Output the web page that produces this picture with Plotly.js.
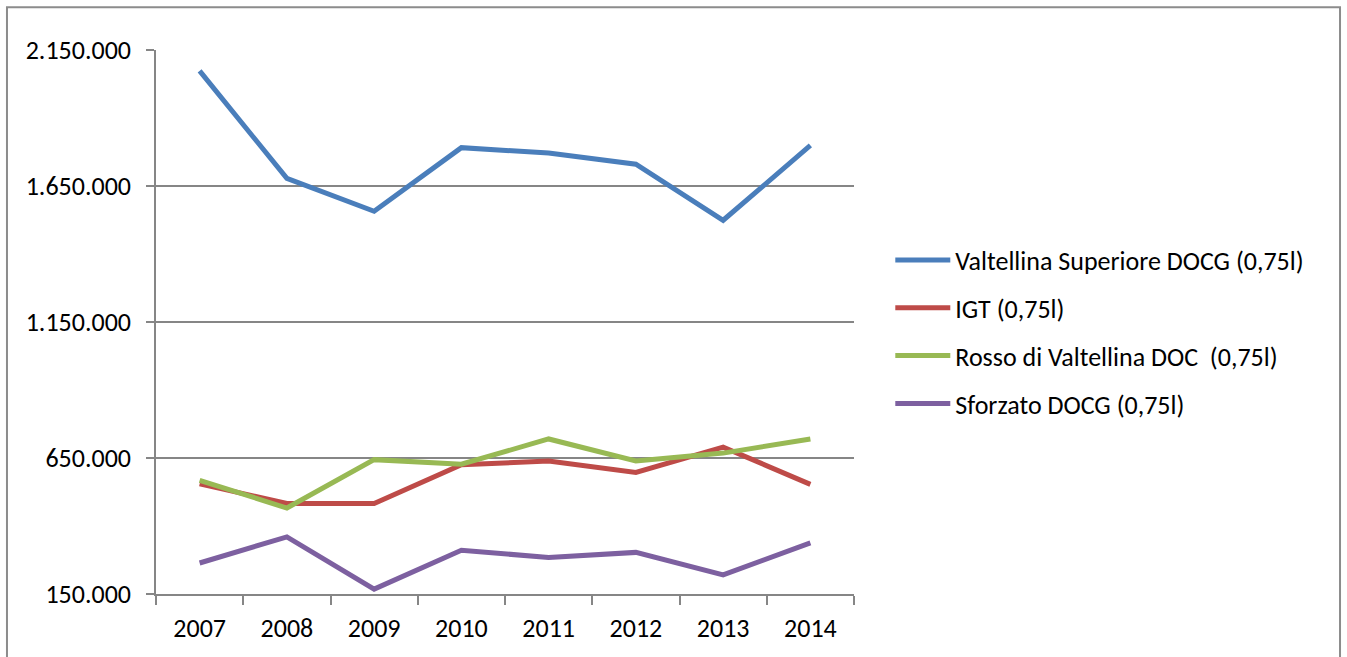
<!DOCTYPE html>
<html>
<head>
<meta charset="utf-8">
<script src="https://cdn.plot.ly/plotly-3.0.1.min.js"></script>
<style>
  html, body { margin: 0; padding: 0; background: #ffffff; }
  #chart { width: 1347px; height: 657px; }
</style>
</head>
<body>
<div id="chart"></div>
<script>
const years = ['2007', '2008', '2009', '2010', '2011', '2012', '2013', '2014'];
const seriesNames = [
  'Valtellina Superiore DOCG (0,75l)',
  'IGT (0,75l)',
  'Rosso di Valtellina DOC  (0,75l)',
  'Sforzato DOCG (0,75l)'
];
const valtellinaSuperiore = [2073000, 1678000, 1557000, 1791000, 1771000, 1730000, 1524000, 1799000];
const igt = [555000, 483000, 483000, 625000, 639000, 597000, 690000, 553000];
const rossoValtellina = [568000, 466000, 644000, 627000, 720000, 639000, 668000, 720000];
const sforzato = [264000, 360000, 168000, 311000, 284000, 303000, 220000, 338000];
const seriesColors = ['#4A7EBB', '#BE4B48', '#98B954', '#7D60A0'];
const yTickVals = [150000, 650000, 1150000, 1650000, 2150000];
const yTickText = ['150.000', '650.000', '1.150.000', '1.650.000', '2.150.000'];

const allSeries = [valtellinaSuperiore, igt, rossoValtellina, sforzato];
const FONT = 'Carlito, Lato, "Liberation Sans", sans-serif';
const FS = 26;

const traces = allSeries.map((vals, i) => ({
  type: 'scatter',
  mode: 'lines',
  x: years,
  y: vals,
  name: seriesNames[i],
  legendgroup: 'g' + i,
  line: { color: seriesColors[i], width: 5 },
  hoverinfo: 'x+y+name'
}));

const layout = {
  width: 1347,
  height: 657,
  margin: { l: 156, r: 493, t: 50, b: 63 },
  paper_bgcolor: '#ffffff',
  plot_bgcolor: '#ffffff',
  font: { family: FONT, size: FS, color: '#000000' },
  showlegend: true,
  legend: {
    x: 1.052,
    xanchor: 'left',
    y: 0.657,
    yanchor: 'top',
    traceorder: 'grouped',
    tracegroupgap: 11,
    itemwidth: 55,
    font: { family: FONT, size: FS, color: '#000000' },
    bgcolor: 'rgba(0,0,0,0)'
  },
  xaxis: {
    type: 'category',
    range: [-0.5, 7.5],
    showgrid: false,
    showline: true,
    linecolor: '#868686',
    linewidth: 1.5,
    ticks: 'outside',
    tickson: 'boundaries',
    ticklen: 9,
    tickcolor: '#868686',
    tickwidth: 1.5,
    ticklabelstandoff: 10,
    tickfont: { family: FONT, size: FS, color: '#000000' },
    zeroline: false,
    fixedrange: true
  },
  yaxis: {
    range: [150000, 2150000],
    tickvals: yTickVals,
    ticktext: yTickText,
    showgrid: true,
    gridcolor: '#868686',
    gridwidth: 1.5,
    showline: true,
    linecolor: '#868686',
    linewidth: 1.5,
    ticks: 'outside',
    ticklen: 8,
    tickcolor: '#868686',
    tickwidth: 1.5,
    ticklabelstandoff: 10,
    tickfont: { family: FONT, size: FS, color: '#000000' },
    zeroline: false,
    fixedrange: true
  },
  shapes: [{
    type: 'rect',
    xref: 'paper', yref: 'paper',
    x0: -0.2135, x1: 1.6963,
    y0: -0.2, y1: 1.0785,
    line: { color: '#8C8C8C', width: 2 },
    fillcolor: 'rgba(0,0,0,0)',
    layer: 'below'
  }]
};

Plotly.newPlot('chart', traces, layout, { displayModeBar: false });
</script>
</body>
</html>
